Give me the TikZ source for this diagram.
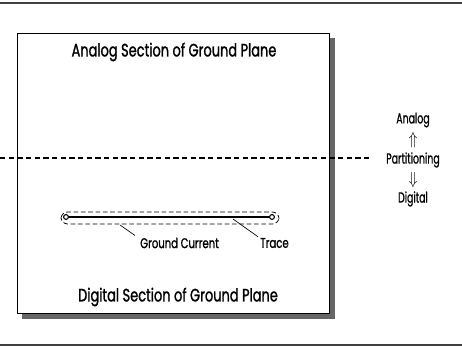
\documentclass[tikz,border=0pt]{standalone}
\usepackage{amsmath,amssymb}
\usepackage{xcolor}
\usepackage{fontspec}
\setmainfont{Poppins}[FakeStretch=0.72, FakeBold=1.2]
\newfontfamily\narrowfont{Poppins}[FakeStretch=0.64, FakeBold=0.8]
\usepackage{tikz}
\usetikzlibrary{positioning, arrows.meta}

\begin{document}
\begin{tikzpicture}[x=0.75pt,y=-0.75pt,>=Latex]
        \useasboundingbox (0,0) rectangle (462,348);
        \tikzset{
          title/.style={font=\fontsize{13.5}{15}\selectfont, inner sep=0pt},
          lbl/.style={font=\fontsize{10.5}{12}\selectfont, inner sep=0pt},
          side/.style={font=\narrowfont\fontsize{11}{12}\selectfont, inner sep=0pt},
          leader/.style={line width=0.5pt},
        }
        % Frame rules
        \draw[line width=2pt, black!75] (0,3) -- (462,3);
        \draw[line width=2pt, black!75] (0,345) -- (462,345);

        % Ground plane with shadow
        \fill[black!60] (22,38) rectangle (335,319);
        \draw[fill=white, line width=0.6pt] (17,33) rectangle (329,313);

        % Partition line
        \coordinate (pl) at (0,158);
        \coordinate (pr) at (372,158);
        \draw[dashed, line width=1.1pt, dash pattern=on 4pt off 2.5pt] (pl) -- (pr);

        % Nodes
        \node (atitle) [title] at (174,52) {Analog Section of Ground Plane};
        \node (dtitle) [title] at (178,297) {Digital Section of Ground Plane};
        \node (part) [side] at (413,160) {Partitioning};
        \node (up) [side] at (413,140) {\scalebox{1}[1.2]{$\Uparrow$}};
        \node (ana) [side] at (413,120) {Analog};
        \node (down) [side] at (413,180) {\scalebox{1}[1.2]{$\Downarrow$}};
        \node (dig) [side] at (413,199) {Digital};
        \node (gc) [lbl, anchor=west] at (140,243) {Ground Current};
        \node (tr) [lbl, anchor=west] at (260,243) {Trace};

        % Trace and return current
        \coordinate (t1) at (66,217);
        \coordinate (t2) at (272,217);
        \draw[dashed, line width=0.6pt, dash pattern=on 3.5pt off 2pt, rounded corners=5pt]
            (61,212) rectangle (279,224);
        \draw[line width=1.3pt] (t1) -- (t2);
        \draw[line width=0.8pt, fill=white] (t1) circle (1.8pt) (t2) circle (1.8pt);

        % Arrows
        \coordinate (gcp) at (120,225);
        \coordinate (trp) at (233,219);
        \draw[leader] (gcp) -- ([shift={(-5,-2)}]gc.north west);
        \draw[leader] (trp) -- ([shift={(-2,-1)}]tr.north west);

    \end{tikzpicture}
\end{document}
